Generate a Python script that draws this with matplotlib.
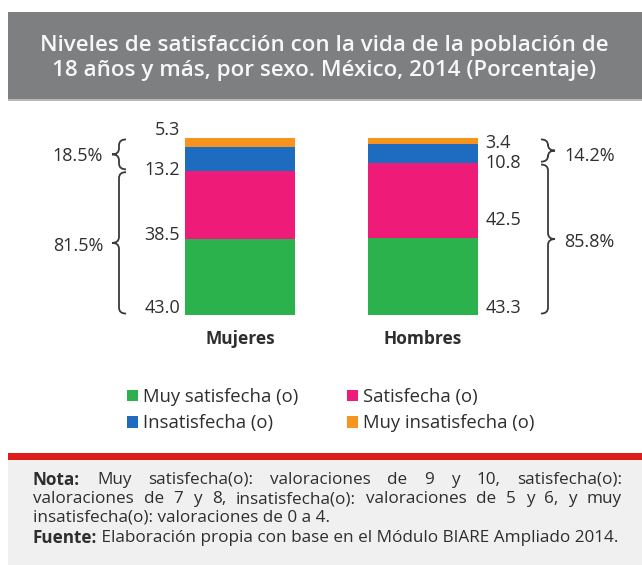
import matplotlib
matplotlib.use("Agg")
import matplotlib.pyplot as plt
from matplotlib.patches import Rectangle, PathPatch
from matplotlib.path import Path
import numpy as np

plt.rcParams['font.family'] = ['Open Sans', 'DejaVu Sans']

# ---------------- data ----------------
categories = ["Mujeres", "Hombres"]
muy_satisfecha = [43.0, 43.3]
satisfecha = [38.5, 42.5]
insatisfecha = [13.2, 10.8]
muy_insatisfecha = [5.3, 3.4]
satisfied_total = ["81.5%", "85.8%"]
unsatisfied_total = ["18.5%", "14.2%"]
value_labels_m = ["43.0", "38.5", "13.2", "5.3"]
value_labels_h = ["43.3", "42.5", "10.8", "3.4"]
names = ["Muy satisfecha (o)", "Satisfecha (o)", "Insatisfecha (o)", "Muy insatisfecha (o)"]

title = "Niveles de satisfacción con la vida de la población de\n18 años y más, por sexo. México, 2014 (Porcentaje)"
note_line1 = "Nota: Muy satisfecha(o): valoraciones de 9 y 10, satisfecha(o):"
note_line2 = "valoraciones de 7 y 8, insatisfecha(o): valoraciones de 5 y 6, y muy"
note_line3 = "insatisfecha(o): valoraciones de 0 a 4."
source_bold = "Fuente:"
source_rest = " Elaboración propia con base en el Módulo BIARE Ampliado 2014."

# ---------------- style ----------------
C_GREEN = "#2bb24c"
C_PINK = "#ee1c78"
C_BLUE = "#1e6cc0"
C_ORANGE = "#f7941e"
C_TEXT = "#2e2e2e"

W, H = 642, 565
fig = plt.figure(figsize=(W / 100, H / 100), dpi=100)
fig.patch.set_facecolor("white")

def fx(px):
    return px / W

def fy(py):
    return 1 - py / H

# title box
fig.patches.append(Rectangle((fx(8), fy(99)), fx(W) - fx(8), fy(12) - fy(99),
                             transform=fig.transFigure, facecolor="#7e7f81",
                             edgecolor="none", zorder=0))
fig.patches.append(Rectangle((fx(8), fy(101)), fx(W) - fx(8), fy(99) - fy(101),
                             transform=fig.transFigure, facecolor="#b9b9bb",
                             edgecolor="none", zorder=0))
fig.text(fx(324), fy(58), title, ha="center", va="center", color="#f7f7f7",
         fontsize=16.1, fontweight="semibold", linespacing=1.3)

# ---------------- bars ----------------
px_per_x = 182.5
px_per_y = 1.77
bar_bottom_px, axes_top_px = 315, 120
ax = fig.add_axes([0, fy(bar_bottom_px), 1, (bar_bottom_px - axes_top_px) / H])
ax.set_xlim(-240 / px_per_x, 1 + (W - 422.5) / px_per_x)
ax.set_ylim(0, (bar_bottom_px - axes_top_px) / px_per_y)
for s in ax.spines.values():
    s.set_visible(False)
ax.set_yticks([])
x = np.arange(len(categories))
bw = 110 / px_per_x

stack = [muy_satisfecha, satisfecha, insatisfecha, muy_insatisfecha]
colors = [C_GREEN, C_PINK, C_BLUE, C_ORANGE]
bottom = np.zeros(len(categories))
bars = []
bottoms = []
for vals, col, nm in zip(stack, colors, names):
    b = ax.bar(x, vals, bw, bottom=bottom, color=col, label=nm, linewidth=0)
    bars.append(b)
    bottoms.append(bottom.copy())
    bottom = bottom + np.array(vals)

ax.set_xticks(x, categories, fontweight="bold", fontsize=12.5, color=C_TEXT)
ax.tick_params(axis="x", length=0, pad=11)

VAL_FS = 13
# value labels (placed near the bottom of each segment)
off_m = [4, 2, 0.5, 10]
off_h = [4, 10.5, 0.3, 0.6]
for i in range(4):
    ax.text(x[0] - bw / 2 - 5 / px_per_x, bottoms[i][0] + off_m[i], value_labels_m[i],
            ha="right", va="center", fontsize=VAL_FS, color=C_TEXT)
    ax.text(x[1] + bw / 2 + 8 / px_per_x, bottoms[i][1] + off_h[i], value_labels_h[i],
            ha="left", va="center", fontsize=VAL_FS, color=C_TEXT)

# braces
def brace(xb, y0, y1, direction, r_px=7, k_px=6, t_px=7):
    r = r_px / px_per_x
    t = t_px / px_per_x
    k = k_px / px_per_y
    ym = (y0 + y1) / 2
    d = direction
    verts = [
        (xb - d * r, y1),
        (xb, y1), (xb, y1 - k),
        (xb, ym + k),
        (xb, ym), (xb + d * t, ym),
        (xb, ym), (xb, ym - k),
        (xb, y0 + k),
        (xb, y0), (xb - d * r, y0),
    ]
    codes = [Path.MOVETO, Path.CURVE3, Path.CURVE3, Path.LINETO,
             Path.CURVE3, Path.CURVE3, Path.CURVE3, Path.CURVE3,
             Path.LINETO, Path.CURVE3, Path.CURVE3]
    ax.add_patch(PathPatch(Path(verts, codes), fill=False, edgecolor="#3a3a3a",
                           lw=1.3, clip_on=False))
    return ym

sat_m = muy_satisfecha[0] + satisfecha[0]
sat_h = muy_satisfecha[1] + satisfecha[1]
top_m = sat_m + insatisfecha[0] + muy_insatisfecha[0]
top_h = sat_h + insatisfecha[1] + muy_insatisfecha[1]
gap = 0.8

xb_m = (119 - 240) / px_per_x
ym = brace(xb_m, 0 + gap, sat_m - gap, -1)
ax.text((103 - 240) / px_per_x, ym - 2, satisfied_total[0], ha="right", va="center",
        fontsize=VAL_FS, color=C_TEXT)
ym = brace(xb_m, sat_m + gap, top_m - gap, -1)
ax.text((103 - 240) / px_per_x, ym - 1, unsatisfied_total[0], ha="right", va="center",
        fontsize=VAL_FS, color=C_TEXT)

xb_h = 1 + (548 - 422.5) / px_per_x
ym = brace(xb_h, 0 + gap, sat_h - gap, 1)
ax.text(1 + (564 - 422.5) / px_per_x, ym - 1.5, satisfied_total[1], ha="left", va="center",
        fontsize=VAL_FS, color=C_TEXT)
ym = brace(xb_h, sat_h + gap, top_h - gap, 1)
ax.text(1 + (564 - 422.5) / px_per_x, ym - 3, unsatisfied_total[1], ha="left", va="center",
        fontsize=VAL_FS, color=C_TEXT)

# ---------------- legend ----------------
leg_kw = dict(frameon=False, loc="upper left", fontsize=13.3, handlelength=0.62,
              handleheight=0.62, handletextpad=0.25, labelspacing=0.45,
              borderaxespad=0, borderpad=0, labelcolor=C_TEXT)
fig.legend([bars[0], bars[2]], [names[0], names[2]],
           bbox_to_anchor=(fx(127), fy(388)), **leg_kw)
fig.legend([bars[1], bars[3]], [names[1], names[3]],
           bbox_to_anchor=(fx(347), fy(388)), **leg_kw)

# ---------------- note box ----------------
fig.patches.append(Rectangle((fx(8), 0), fx(W) - fx(8), fy(460), transform=fig.transFigure,
                             facecolor="#f0f0f0", edgecolor="none", zorder=0))
fig.patches.append(Rectangle((fx(8), fy(460)), fx(W) - fx(8), fy(453) - fy(460),
                             transform=fig.transFigure, facecolor="#e01b1b",
                             edgecolor="none", zorder=0))

fig.canvas.draw()
renderer = fig.canvas.get_renderer()
NOTE_FS = 12.3
left_px, right_px = 33, 622

def justified(line, y_px, bold_first=False):
    words = line.split(" ")
    texts = []
    for i, w in enumerate(words):
        fw = "bold" if (bold_first and i == 0) else "normal"
        t = fig.text(0, fy(y_px), w, ha="left", va="center", fontsize=NOTE_FS,
                     color=C_TEXT, fontweight=fw)
        texts.append(t)
    widths = [t.get_window_extent(renderer).width for t in texts]
    g = (right_px - left_px - sum(widths)) / (len(words) - 1)
    xpos = left_px
    for t, wdt in zip(texts, widths):
        t.set_x(fx(xpos))
        xpos += wdt + g

justified(note_line1, 480, bold_first=True)
justified(note_line2, 499)
fig.text(fx(left_px), fy(518), note_line3, ha="left", va="center", fontsize=NOTE_FS,
         color=C_TEXT)
tb = fig.text(fx(left_px), fy(538), source_bold, ha="left", va="center", fontsize=NOTE_FS,
              color=C_TEXT, fontweight="bold")
wb = tb.get_window_extent(renderer).width
fig.text(fx(left_px + wb), fy(538), source_rest, ha="left", va="center", fontsize=NOTE_FS,
         color=C_TEXT)

fig.savefig("out.png", dpi=100)
